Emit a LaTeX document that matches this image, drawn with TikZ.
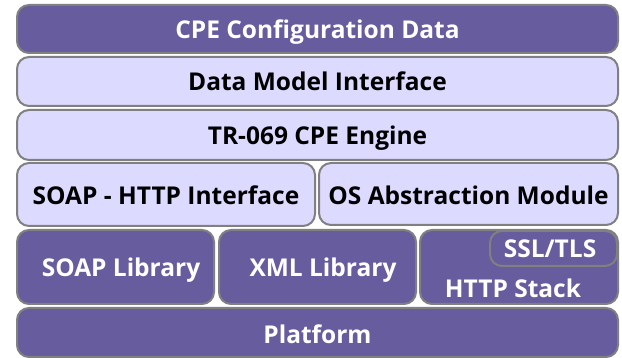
\documentclass[tikz,border=0pt]{standalone}
\usepackage{fontspec}
\setmainfont{Open Sans}
\definecolor{darkpurple}{RGB}{102,92,158}
\definecolor{lightpurple}{RGB}{221,218,255}
\definecolor{edgegray}{RGB}{128,128,128}

\begin{document}
\begin{tikzpicture}[x=1pt,y=-1pt,
	layer/.style={draw=edgegray, line width=2pt, rounded corners=12pt, inner sep=0pt,
		text depth=0pt, font=\fontsize{24.5}{28}\selectfont\bfseries},
	darkbox/.style={layer, fill=darkpurple, text=white},
	lightbox/.style={layer, fill=lightpurple, text=black},
	lbl/.style={inner sep=0pt, text depth=0pt, font=\fontsize{24.5}{28}\selectfont\bfseries}]
   \useasboundingbox (0,0) rectangle (622,358);
   % top layers
   \node[darkbox, minimum width=601pt, minimum height=48pt] (cfg) at (317.5,29) {CPE Configuration Data};
   \node[lightbox, minimum width=601pt, minimum height=49pt] (dmi) at (317.5,81.5) {Data Model Interface};
   \node[lightbox, minimum width=601pt, minimum height=50pt] (eng) at (317.5,135) {TR-069 CPE Engine};
   \node[lightbox, minimum width=298pt, minimum height=63pt] (soaphttp) at (166,194.5) {\raisebox{-2pt}{SOAP - HTTP Interface}};
   \node[lightbox, minimum width=299pt, minimum height=62pt] (osam) at (468.5,194) {\raisebox{-2pt}{OS Abstraction Module}};
   % libraries
   \node[darkbox, minimum width=197pt, minimum height=74pt] (soaplib) at (115.5,267) {};
   \node[lbl, text=white] (soaplibtxt) at (121,267) {SOAP Library};
   \node[darkbox, minimum width=197pt, minimum height=74pt] (xmllib) at (317.5,267) {};
   \node[lbl, text=white] (xmllibtxt) at (323,267) {XML Library};
   \node[darkbox, minimum width=198pt, minimum height=74pt] (http) at (519,267) {};
   \node[lbl, text=white] (httptxt) at (513,288) {HTTP Stack};
   \node[darkbox, minimum width=127pt, minimum height=35pt] (ssl) at (553.5,248.5) {};
   \node[lbl, text=white] (ssltxt) at (550,249) {SSL/TLS};
   % bottom
   \node[darkbox, minimum width=601pt, minimum height=49pt] (plat) at (317.5,332.5) {\raisebox{-3pt}{Platform}};
\end{tikzpicture}
\end{document}
